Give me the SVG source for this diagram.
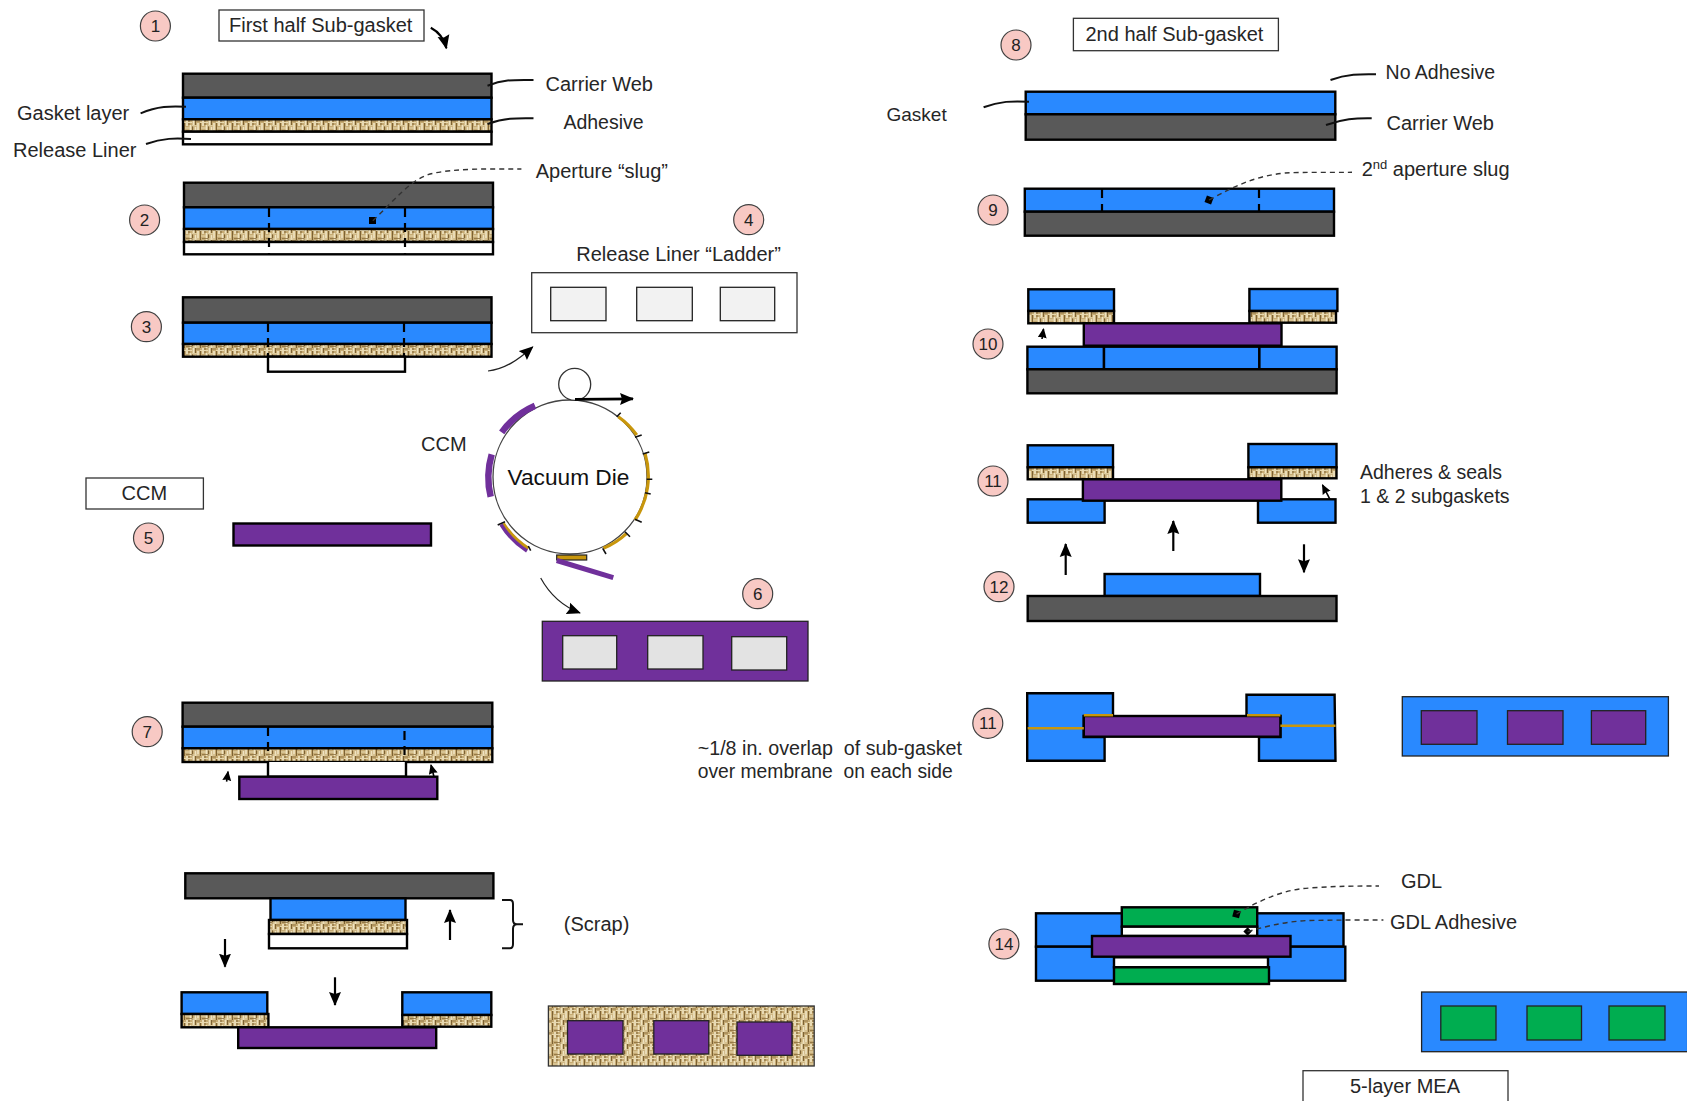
<svg xmlns="http://www.w3.org/2000/svg" width="1687" height="1101" viewBox="0 0 1687 1101">
<style>
text{font-family:"Liberation Sans",Arial,sans-serif;font-size:20px;fill:#262626}
.s{font-size:19.500px}
.b{fill:#f8c9c4;stroke:#404040;stroke-width:1.2}
.bt{font-size:17px;text-anchor:middle;fill:#222}
.lay{stroke:#000;stroke-width:2.4}
.gray{fill:#595959}
.blue{fill:#2989ff}
.adh{fill:url(#burlap)}
.wht{fill:#fff}
.pur{fill:#70309b}
.grn{fill:#00ad50}
.box{fill:#fff;stroke:#333;stroke-width:1.3}
.ins{stroke:#222;stroke-width:1.3}
.cut{stroke:#000;stroke-width:2.2;stroke-dasharray:9 6;fill:none}
.lead{fill:none;stroke:#111;stroke-width:2}
.dash{fill:none;stroke:#333;stroke-width:1.4;stroke-dasharray:5 4}
.arr{fill:none;stroke:#000;stroke-width:2.200;marker-end:url(#ah)}
.sm{fill:none;stroke:#000;stroke-width:1.600;marker-end:url(#ahs)}
.thin{fill:none;stroke:#222;stroke-width:1.2;marker-end:url(#ah)}
.tick{stroke:#111;stroke-width:1.6}
.gold{fill:none;stroke:#c8960c;stroke-width:3.2}
.purl{fill:none;stroke:#70309b;stroke-width:6.500}
</style>
<defs>
<marker id="ah" markerUnits="userSpaceOnUse" markerWidth="16" markerHeight="14" refX="13" refY="6.500" orient="auto"><path d="M0 0.500L14 6.500L0 12.500L2 6.500Z" fill="#000"/></marker>
<marker id="ahs" markerUnits="userSpaceOnUse" markerWidth="11" markerHeight="10" refX="9" refY="4.500" orient="auto"><path d="M0 0L10 4.500L0 9L1 4.500Z" fill="#000"/></marker>
<pattern id="burlap" patternUnits="userSpaceOnUse" width="16" height="12">
<rect width="16" height="12" fill="#c6ab74"/>
<path d="M1.500 0V5M6 3V10M11 0V6M14.500 5V12M3.500 7V12" stroke="#f0e4c2" stroke-width="1.700"/>
<path d="M3.500 0V5M8.500 2V12M13 0V5M0.500 6V12" stroke="#7d6233" stroke-width="1"/>
<path d="M8 2.500H16M0 5.800H6M9 8H14M0 11H7" stroke="#e8d9af" stroke-width="1"/>
<path d="M4 1H8M10 10.500H16" stroke="#8a6d3c" stroke-width="0.800"/>
</pattern>
</defs>
<rect width="1687" height="1101" fill="#fff"/>

<g id="n1"><ellipse class="b" cx="155.400" cy="26" rx="15" ry="15"/><text class="bt" x="155.400" y="32">1</text></g>
<g id="title1"><rect class="box" x="219" y="10" width="205" height="31"/><text x="229" y="32">First half Sub-gasket</text></g>
<g id="step1">
<rect class="lay gray" x="183" y="73.700" width="308.500" height="24"/>
<rect class="lay blue" x="183" y="97.700" width="308.500" height="21.600"/>
<rect class="lay adh" x="183" y="119.300" width="308.500" height="12.400"/>
<rect class="lay wht" x="183" y="131.700" width="308.500" height="12.600"/>
</g>
<text x="545.500" y="90.700">Carrier Web</text>
<text x="17" y="119.500">Gasket layer</text>
<text x="13" y="156.700">Release Liner</text>
<text class="s" x="563.400" y="129">Adhesive</text>

<g id="n2"><ellipse class="b" cx="144.600" cy="220" rx="15" ry="15"/><text class="bt" x="144.600" y="226">2</text></g>
<g id="step2">
<rect class="lay gray" x="184" y="182.700" width="309" height="24.600"/>
<rect class="lay blue" x="184" y="207.300" width="309" height="21.700"/>
<rect class="lay adh" x="184" y="229" width="309" height="13"/>
<rect class="lay wht" x="184" y="242" width="309" height="12.300"/>
<path class="cut" d="M269 208V254M405 208V254"/>
<rect x="369" y="217" width="7" height="7" fill="#000"/>
</g>
<text x="535.700" y="178.300">Aperture “slug”</text>

<g id="n3"><ellipse class="b" cx="146.400" cy="326.700" rx="15" ry="15"/><text class="bt" x="146.400" y="333">3</text></g>
<g id="step3">
<rect class="lay gray" x="183" y="297.300" width="308.500" height="25.400"/>
<rect class="lay blue" x="183" y="322.700" width="308.500" height="21.300"/>
<rect class="lay adh" x="183" y="344" width="308.500" height="12.700"/>
<rect class="lay wht" x="268" y="356.700" width="137" height="15"/>
<path class="cut" d="M268 323V357M404 323V357"/>
</g>

<g id="n4"><ellipse class="b" cx="748.700" cy="219.700" rx="15" ry="15"/><text class="bt" x="748.700" y="226">4</text></g>
<text x="576.300" y="260.700">Release Liner “Ladder”</text>
<g id="ladder">
<rect class="box" x="531.700" y="272.700" width="265.300" height="60"/>
<rect class="ins" fill="#f2f2f2" x="550.700" y="287.300" width="55.300" height="33.400"/>
<rect class="ins" fill="#f2f2f2" x="636.700" y="287.300" width="55.600" height="33.400"/>
<rect class="ins" fill="#f2f2f2" x="720.300" y="287.300" width="54.400" height="33.400"/>
</g>

<g id="die">
<circle cx="570" cy="477" r="77" fill="#fff" stroke="#444" stroke-width="1.3"/>
<circle cx="574.700" cy="384.300" r="16" fill="#fff" stroke="#333" stroke-width="1.3"/>
<path class="gold" d="M618.300 416.700A78 78 0 0 1 636.700 435"/>
<path class="gold" d="M645 453.300A79 79 0 0 1 635 520"/>
<path class="gold" d="M626.700 533.300A79 79 0 0 1 603.300 548.300"/>
<path class="gold" d="M503.300 523.300A79 79 0 0 0 528.300 548.300"/>
<path class="purl" d="M535 405.700A81 81 0 0 0 501.700 432.300"/>
<path class="purl" d="M491.700 454.300A81 81 0 0 0 490.700 496.700"/>
<path class="purl" d="M501 524.500A83 83 0 0 0 527 551" style="stroke-width:3.500"/>
<rect x="556.700" y="555" width="30" height="5" fill="#c8960c" stroke="#222" stroke-width="1.200"/>
<path class="purl" d="M556.700 560.500L613.300 577.700" style="stroke-width:5"/>
<path class="tick" d="M616.700 416.700L620.700 412.700M635 437.300L641.700 435M642.700 454L649.300 452M646.700 479.300H652.300M645 492.700L650.700 494M635 519.300L641.700 522.300M625 531.700L630 536.700M602.700 548.300L606 554M497.700 525L505 521.700M528.300 546L530.700 550.700"/>
<text x="507.500" y="485" style="font-size:22.700px;fill:#111">Vacuum Die</text>
</g>
<text x="421" y="450.700">CCM</text>

<g id="ccmbox"><rect class="box" x="86" y="478" width="117.400" height="31"/><text x="121.500" y="500">CCM</text></g>
<g id="n5"><ellipse class="b" cx="148.500" cy="538" rx="15" ry="15"/><text class="bt" x="148.500" y="544">5</text></g>
<rect id="ccm" class="lay pur" x="233.500" y="523.500" width="197.500" height="22"/>

<g id="n6"><ellipse class="b" cx="757.700" cy="593.700" rx="15" ry="15"/><text class="bt" x="757.700" y="600">6</text></g>
<g id="panel6">
<rect class="pur" stroke="#222" stroke-width="1.300" x="542.300" y="621.300" width="265.700" height="59.700"/>
<rect class="ins" fill="#e3e3e3" x="562.700" y="635.700" width="54" height="33.300"/>
<rect class="ins" fill="#e3e3e3" x="647.700" y="635.700" width="55.300" height="33.300"/>
<rect class="ins" fill="#e3e3e3" x="731.700" y="636.700" width="55" height="33.300"/>
</g>

<g id="n7"><ellipse class="b" cx="147.200" cy="731.700" rx="15" ry="15"/><text class="bt" x="147.200" y="738">7</text></g>
<g id="step7">
<rect class="lay gray" x="182.600" y="702.700" width="309.700" height="24"/>
<rect class="lay blue" x="182.600" y="726.700" width="309.700" height="21.600"/>
<rect class="lay adh" x="182.600" y="748.300" width="309.700" height="13.700"/>
<path class="lay" fill="#fff" d="M268 762V776.700H406V762"/>
<rect class="lay pur" x="239.300" y="776.700" width="198" height="22.300"/>
<path class="cut" d="M268 727V757M404.500 731V757"/>
</g>
<text x="697.700" y="755" style="font-size:19.700px" xml:space="preserve">~1/8 in. overlap  of sub-gasket</text>
<text x="697.700" y="778.300" style="font-size:19.300px" xml:space="preserve">over membrane  on each side</text>

<g id="scrap">
<rect class="lay gray" x="185.300" y="873.300" width="308.100" height="25"/>
<rect class="lay blue" x="270.500" y="898.300" width="135" height="21.700"/>
<rect class="lay adh" x="269" y="920" width="138" height="14"/>
<rect class="lay wht" x="269" y="934" width="138" height="14.300"/>
</g>
<text x="563.800" y="930.700">(Scrap)</text>

<g id="step7b">
<rect class="lay blue" x="181.600" y="992.300" width="85.700" height="21.700"/>
<rect class="lay adh" x="181.600" y="1014" width="86.800" height="13.300"/>
<rect class="lay blue" x="402.300" y="992.300" width="89" height="22.700"/>
<rect class="lay adh" x="402.300" y="1015" width="89" height="11.700"/>
<rect class="lay pur" x="238.200" y="1027.300" width="198" height="20.700"/>
</g>
<g id="panel7b">
<rect class="adh" stroke="#333" stroke-width="1.300" x="548.400" y="1006" width="265.800" height="60"/>
<rect class="ins pur" x="567.500" y="1020.700" width="55.500" height="33.300"/>
<rect class="ins pur" x="653.800" y="1020.700" width="55" height="33.300"/>
<rect class="ins pur" x="737" y="1022" width="55" height="33.300"/>
</g>

<g id="n8"><ellipse class="b" cx="1016" cy="45" rx="15" ry="15"/><text class="bt" x="1016" y="51">8</text></g>
<g id="title2"><rect class="box" x="1073.400" y="18.300" width="205" height="32.400"/><text x="1085.500" y="40.500">2nd half Sub-gasket</text></g>
<g id="step8">
<rect class="lay blue" x="1025.700" y="91.700" width="309.600" height="22.600"/>
<rect class="lay gray" x="1025.700" y="114.300" width="309.600" height="25.400"/>
</g>
<text class="s" x="1385.600" y="79">No Adhesive</text>
<text x="886.500" y="120.500" style="font-size:19px">Gasket</text>
<text x="1386.500" y="130">Carrier Web</text>

<g id="n9"><ellipse class="b" cx="993" cy="210" rx="15" ry="15"/><text class="bt" x="993" y="216">9</text></g>
<g id="step9">
<rect class="lay blue" x="1024.800" y="188.700" width="309.200" height="23"/>
<rect class="lay gray" x="1024.800" y="211.700" width="309.200" height="24"/>
<path class="cut" d="M1102 189V211M1259 189V211"/>
<rect x="1205.500" y="196.500" width="7" height="7" fill="#000" transform="rotate(20 1209 200)"/>
</g>
<text x="1361.700" y="175.700">2<tspan dy="-7" style="font-size:13px">nd</tspan><tspan dy="7"> aperture slug</tspan></text>

<g id="n10"><ellipse class="b" cx="988" cy="344" rx="15" ry="15"/><text class="bt" x="988" y="350">10</text></g>
<g id="step10">
<rect class="lay blue" x="1028.300" y="289.300" width="85.700" height="21.700"/>
<rect class="lay adh" x="1028.300" y="311" width="85.700" height="12.300"/>
<rect class="lay blue" x="1249.400" y="289" width="88" height="22"/>
<rect class="lay adh" x="1249.400" y="311" width="86.600" height="11.700"/>
<rect class="lay pur" x="1083.800" y="323.300" width="197.700" height="22.400"/>
<rect class="lay blue" x="1027.400" y="346.700" width="76.600" height="22.600"/>
<rect class="lay blue" x="1104" y="346.700" width="155.400" height="22.600"/>
<rect class="lay blue" x="1259.400" y="346.700" width="77.200" height="22.600"/>
<rect class="lay gray" x="1027.400" y="369.300" width="309.200" height="24"/>
</g>

<g id="n11a"><ellipse class="b" cx="993" cy="481" rx="15" ry="15"/><text class="bt" x="993" y="487">11</text></g>
<g id="step11">
<rect class="lay blue" x="1027.700" y="445.300" width="85.300" height="22"/>
<rect class="lay adh" x="1027.700" y="467.300" width="85.300" height="12"/>
<rect class="lay blue" x="1248.400" y="444" width="88.100" height="23.300"/>
<rect class="lay adh" x="1248.400" y="467.300" width="88.100" height="11"/>
<rect class="lay blue" x="1027.700" y="499.300" width="76.900" height="23.400"/>
<rect class="lay blue" x="1258" y="499.300" width="77.500" height="23.400"/>
<rect class="lay pur" x="1082.900" y="479.300" width="198.400" height="21.400"/>
</g>
<text class="s" x="1360" y="479.300">Adheres &amp; seals</text>
<text class="s" x="1360" y="503.300">1 &amp; 2 subgaskets</text>

<g id="n12"><ellipse class="b" cx="999" cy="586.700" rx="15" ry="15"/><text class="bt" x="999" y="593">12</text></g>
<g id="step12">
<rect class="lay blue" x="1104.600" y="574" width="155.400" height="22"/>
<rect class="lay gray" x="1027.700" y="596" width="308.800" height="25"/>
</g>

<g id="n11b"><ellipse class="b" cx="987.800" cy="723.300" rx="15" ry="15"/><text class="bt" x="987.800" y="729">11</text></g>
<g id="step11b">
<path class="lay blue" d="M1027.200 693.300H1113V716H1083.800V737H1104.600V760.700H1027.200Z"/>
<path class="lay blue" d="M1246.500 694.700H1334.600L1335.500 760.700H1259V737H1280.400V716H1246.500Z"/>
<rect class="lay pur" x="1083.800" y="716" width="196.600" height="20.700"/>
<path class="gold" style="stroke-width:2.400" d="M1027.700 728.300H1083.800M1280.400 725.700H1335.500M1083.800 715.300H1113M1247 715.300H1280.400"/>
</g>
<g id="panel11b">
<rect class="blue" stroke="#222" stroke-width="1.300" x="1402.300" y="696.700" width="266.100" height="59.300"/>
<rect class="ins pur" x="1421.300" y="710.700" width="55.700" height="33.600"/>
<rect class="ins pur" x="1507.500" y="710.700" width="55.500" height="33.600"/>
<rect class="ins pur" x="1591.400" y="710.700" width="54.300" height="33.600"/>
</g>

<g id="n14"><ellipse class="b" cx="1003.900" cy="944" rx="15" ry="15"/><text class="bt" x="1003.900" y="950">14</text></g>
<g id="step14">
<rect class="lay blue" x="1036" y="913.300" width="307.500" height="33.400"/>
<rect class="lay blue" x="1036" y="946.700" width="309.300" height="34"/>
<rect class="lay grn" x="1121.800" y="907.300" width="135.400" height="19.400"/>
<rect class="lay wht" x="1121.800" y="926.700" width="135.400" height="9.300"/>
<rect class="lay wht" x="1114" y="957.300" width="154" height="10"/>
<rect class="lay grn" x="1114" y="967.300" width="155" height="16.700"/>
<rect class="lay pur" x="1092" y="936" width="198.500" height="20.700"/>
<rect x="1233" y="910.500" width="7" height="7" fill="#000" transform="rotate(15 1236.600 914)"/>
<rect x="1244.500" y="928.600" width="6" height="6" fill="#000" transform="rotate(45 1247.600 931.700)"/>
</g>
<text x="1401" y="888.300">GDL</text>
<text x="1390" y="929">GDL Adhesive</text>
<g id="panel14">
<rect class="blue" stroke="#222" stroke-width="1.300" x="1421.600" y="992" width="266" height="59.700"/>
<rect class="ins grn" x="1440.800" y="1006" width="55.200" height="34"/>
<rect class="ins grn" x="1527" y="1006" width="54.500" height="34"/>
<rect class="ins grn" x="1609" y="1006" width="56" height="34"/>
</g>
<g id="mea"><rect class="box" x="1303" y="1070.700" width="205" height="40"/><text x="1350" y="1093.300">5-layer MEA</text></g>

<g id="connectors">
<path class="lead" d="M487.500 85.700C505 79 515 80 533.500 80"/>
<path class="lead" d="M140.600 113.300C158 106 170 106 186 106.700"/>
<path class="lead" d="M146 144C163 138 175 138 191 139"/>
<path class="lead" d="M487.500 124C505 118 515 118 533.500 118.300"/>
<path class="dash" d="M372.800 220.700C395 200 410 180 430 174C455 168 490 169 521.400 169"/>
<path class="arr" d="M430.800 27.700C439 32 444 38 446.400 48.300"/>
<path class="thin" d="M488 371C505 369 518 360 532.700 347"/>
<path class="thin" d="M540.700 578C550 595 562 606 580 613"/>
<path class="arr" d="M575 399.300L633 398.800" style="stroke-width:2.800"/>
<path class="sm" d="M226.600 781.700L228 771.700"/>
<path class="sm" d="M434 776.700L431 765"/>
<path class="arr" d="M450 940V910"/>
<path class="arr" d="M225 939V966.700"/>
<path class="arr" d="M335 977.300V1005"/>
<path class="lead" d="M502 900H510Q513 900 513 904V920Q513 924.300 517 924.300H523M517 924.300Q513 924.300 513 929V944Q513 948.300 510 948.300H502"/>
<path class="lead" d="M1330.500 80C1347 74 1360 74 1376 74.300"/>
<path class="lead" d="M983.600 107.300C1000 101 1012 101 1029 101.700"/>
<path class="lead" d="M1326 125C1343 119 1355 118 1371.700 118.300"/>
<path class="dash" d="M1209 200C1235 186 1255 176 1285 173C1305 172 1330 172.500 1352 172.300"/>
<path class="sm" d="M1042 339L1043.500 329"/>
<path class="sm" d="M1330 499.300L1322.500 485"/>
<path class="arr" d="M1065.700 575V544"/>
<path class="arr" d="M1173.300 551V521"/>
<path class="arr" d="M1304 544.300V572.300"/>
<path class="dash" d="M1236.600 914C1260 900 1285 889 1310 888C1335 886 1360 886 1379 886"/>
<path class="dash" d="M1247.600 931.700C1270 925 1290 921 1310 920.500C1335 920 1360 920 1383.400 920"/>
</g>
</svg>
